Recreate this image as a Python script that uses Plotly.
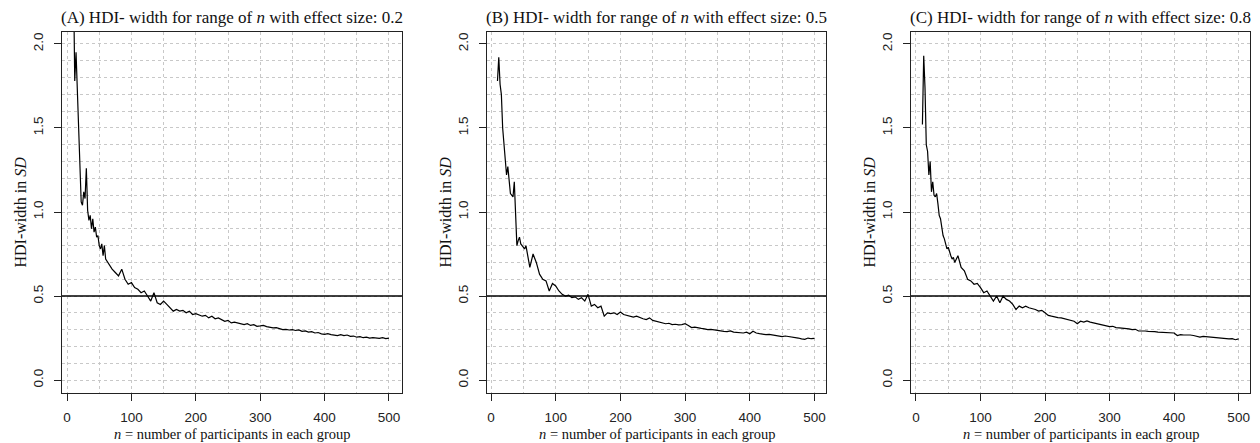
import plotly.graph_objects as go

# ---- data ----
n_values = [10, 12, 14, 16, 18, 20, 22, 24, 26, 28, 30, 32, 34, 36, 38, 40, 42, 44, 46, 48,
            50, 52, 54, 56, 58, 60, 65, 70, 75, 80, 85, 90, 95, 100, 105, 110, 115, 120, 125, 130,
            135, 140, 145, 150, 155, 160, 165, 170, 175, 180, 185, 190, 195, 200, 205, 210, 215, 220,
            225, 230, 235, 240, 245, 250, 255, 260, 265, 270, 275, 280, 285, 290, 295, 300, 305, 310,
            315, 320, 325, 330, 335, 340, 345, 350, 355, 360, 365, 370, 375, 380, 385, 390, 395, 400,
            405, 410, 415, 420, 425, 430, 435, 440, 445, 450, 455, 460, 465, 470, 475, 480, 485, 490,
            495, 500]

hdi_es02 = [2.40, 1.78, 1.95, 1.72, 1.39, 1.24, 1.06, 1.04, 1.12, 1.08, 1.26, 1.01, 0.95, 0.98, 0.90, 0.96, 0.88, 0.91, 0.85, 0.86,
            0.80, 0.78, 0.81, 0.74, 0.80, 0.72, 0.69, 0.66, 0.64, 0.62, 0.66, 0.60, 0.57, 0.58, 0.55, 0.54, 0.52, 0.53, 0.50, 0.47,
            0.52, 0.46, 0.45, 0.47, 0.45, 0.43, 0.41, 0.42, 0.41, 0.415, 0.40, 0.41, 0.39, 0.395, 0.385, 0.38, 0.385, 0.37,
            0.38, 0.365, 0.37, 0.36, 0.35, 0.355, 0.34, 0.345, 0.34, 0.335, 0.33, 0.335, 0.325, 0.33, 0.32, 0.322, 0.325, 0.318,
            0.315, 0.31, 0.312, 0.305, 0.30, 0.302, 0.298, 0.30, 0.295, 0.298, 0.29, 0.292, 0.285, 0.288, 0.28, 0.283, 0.275, 0.272,
            0.276, 0.27, 0.268, 0.265, 0.27, 0.264, 0.268, 0.26, 0.262, 0.255, 0.258, 0.252, 0.255, 0.25, 0.252, 0.25, 0.248, 0.252,
            0.247, 0.25]

hdi_es05 = [1.78, 1.92, 1.76, 1.70, 1.50, 1.40, 1.33, 1.22, 1.27, 1.17, 1.11, 1.10, 1.09, 1.18, 1.01, 0.80, 0.83, 0.85, 0.81, 0.80,
            0.79, 0.78, 0.80, 0.76, 0.72, 0.67, 0.75, 0.70, 0.63, 0.60, 0.59, 0.53, 0.575, 0.56, 0.53, 0.51, 0.50, 0.505, 0.49, 0.495,
            0.48, 0.49, 0.47, 0.51, 0.44, 0.45, 0.43, 0.44, 0.38, 0.40, 0.395, 0.40, 0.39, 0.405, 0.39, 0.385, 0.38, 0.375,
            0.38, 0.37, 0.365, 0.36, 0.37, 0.355, 0.35, 0.345, 0.34, 0.335, 0.338, 0.33, 0.332, 0.328, 0.33, 0.335, 0.325, 0.312,
            0.315, 0.31, 0.308, 0.305, 0.30, 0.302, 0.298, 0.295, 0.292, 0.29, 0.288, 0.292, 0.285, 0.283, 0.282, 0.28, 0.285, 0.275,
            0.29, 0.28, 0.276, 0.272, 0.27, 0.272, 0.268, 0.265, 0.262, 0.258, 0.262, 0.26, 0.255, 0.252, 0.25, 0.245, 0.242, 0.25,
            0.246, 0.248]

hdi_es08 = [1.52, 1.93, 1.74, 1.40, 1.36, 1.22, 1.30, 1.12, 1.18, 1.10, 1.09, 1.11, 1.05, 0.98, 0.96, 0.90, 0.86, 0.84, 0.80, 0.78,
            0.79, 0.76, 0.74, 0.72, 0.73, 0.70, 0.74, 0.67, 0.65, 0.60, 0.59, 0.57, 0.575, 0.55, 0.52, 0.53, 0.50, 0.47, 0.50, 0.46,
            0.50, 0.48, 0.47, 0.45, 0.42, 0.44, 0.43, 0.44, 0.43, 0.425, 0.42, 0.41, 0.415, 0.40, 0.385, 0.38, 0.375, 0.372,
            0.37, 0.365, 0.362, 0.358, 0.35, 0.335, 0.35, 0.345, 0.352, 0.345, 0.34, 0.335, 0.33, 0.325, 0.322, 0.318, 0.32, 0.312,
            0.31, 0.308, 0.31, 0.305, 0.30, 0.302, 0.292, 0.294, 0.292, 0.29, 0.29, 0.288, 0.285, 0.284, 0.282, 0.28, 0.278, 0.28,
            0.265, 0.27, 0.268, 0.27, 0.268, 0.265, 0.262, 0.255, 0.26, 0.258, 0.255, 0.256, 0.252, 0.25, 0.25, 0.248, 0.245, 0.246,
            0.24, 0.245]

panel_labels = ["A", "B", "C"]
effect_sizes = ["0.2", "0.5", "0.8"]
series = [hdi_es02, hdi_es05, hdi_es08]
threshold = 0.5

x_ticks = [0, 100, 200, 300, 400, 500]
y_ticks = [0.0, 0.5, 1.0, 1.5, 2.0]
y_tick_text = ["0.0", "0.5", "1.0", "1.5", "2.0"]

# ---- layout geometry (pixels) ----
W, H = 1260, 443
boxes = [(62, 402), (487, 826), (911, 1250)]
top_px, bot_px = 32, 393
x_ranges = [[-7.8, 520.2], [-6.2, 517.8], [-7.7, 517.6]]
y_range = [-0.077, 2.071]

SERIF = "Liberation Serif, Times New Roman, serif"
SANS = "Liberation Sans, Arial, sans-serif"


def px_x(p):
    return p / W


def px_y(p):
    return 1 - p / H


fig = go.Figure()
annotations = []
shapes = []

for i in range(3):
    xa = "x" if i == 0 else f"x{i+1}"
    ya = "y" if i == 0 else f"y{i+1}"
    fig.add_trace(go.Scatter(x=n_values, y=series[i], mode="lines",
                             line=dict(color="black", width=1.2),
                             xaxis=xa, yaxis=ya, showlegend=False,
                             hoverinfo="x+y"))
    l, r = boxes[i]
    axis_common = dict(showline=True, mirror=True, linecolor="#222", linewidth=1,
                       ticks="outside", tickcolor="#222", ticklen=7, tickwidth=1,
                       zeroline=False, showgrid=True, gridcolor="#c8c8c8",
                       griddash="dot", gridwidth=1)
    fig.layout[("xaxis" if i == 0 else f"xaxis{i+1}")] = dict(
        domain=[px_x(l), px_x(r)], range=x_ranges[i], anchor=ya,
        tickvals=x_ticks, ticktext=[str(v) for v in x_ticks],
        tickfont=dict(family=SANS, size=13.5, color="#222"),
        ticklabelstandoff=5,
        minor=dict(dtick=50, tick0=0, showgrid=True, gridcolor="#c8c8c8",
                   griddash="dot", gridwidth=1, ticks=""),
        **axis_common)
    fig.layout[("yaxis" if i == 0 else f"yaxis{i+1}")] = dict(
        domain=[px_y(bot_px), px_y(top_px)], range=y_range, anchor=xa,
        tickvals=y_ticks, ticktext=y_tick_text, tickangle=-90,
        tickfont=dict(family=SANS, size=13.5, color="#222"),
        ticklabelstandoff=6,
        minor=dict(dtick=0.1, tick0=0, showgrid=True, gridcolor="#c8c8c8",
                   griddash="dot", gridwidth=1, ticks=""),
        **axis_common)
    # threshold line
    shapes.append(dict(type="line", xref=f"{xa} domain", yref=ya,
                       x0=0, x1=1, y0=threshold, y1=threshold,
                       line=dict(color="black", width=1.5)))
    cx = (l + r) / 2
    annotations.append(dict(
        text=f"({panel_labels[i]}) HDI- width for range of <i>n</i> with effect size: {effect_sizes[i]}",
        x=px_x(cx), y=px_y(18), xref="paper", yref="paper",
        xanchor="center", yanchor="middle", showarrow=False,
        font=dict(family=SERIF, size=17, color="#111")))
    annotations.append(dict(
        text="<i>n</i> = number of participants in each group",
        x=px_x(cx), y=px_y(434), xref="paper", yref="paper",
        xanchor="center", yanchor="middle", showarrow=False,
        font=dict(family=SERIF, size=14.5, color="#111")))
    annotations.append(dict(
        text="HDI-width in <i>SD</i>", textangle=-90,
        x=px_x(l - 42), y=px_y((top_px + bot_px) / 2), xref="paper", yref="paper",
        xanchor="center", yanchor="middle", showarrow=False,
        font=dict(family=SERIF, size=16, color="#111")))

fig.update_layout(width=W, height=H, margin=dict(l=0, r=0, t=0, b=0),
                  paper_bgcolor="white", plot_bgcolor="white",
                  annotations=annotations, shapes=shapes)

fig.write_html("out.html", config={"displayModeBar": False},
               post_script="document.body.style.margin='0';document.body.style.padding='0';")
